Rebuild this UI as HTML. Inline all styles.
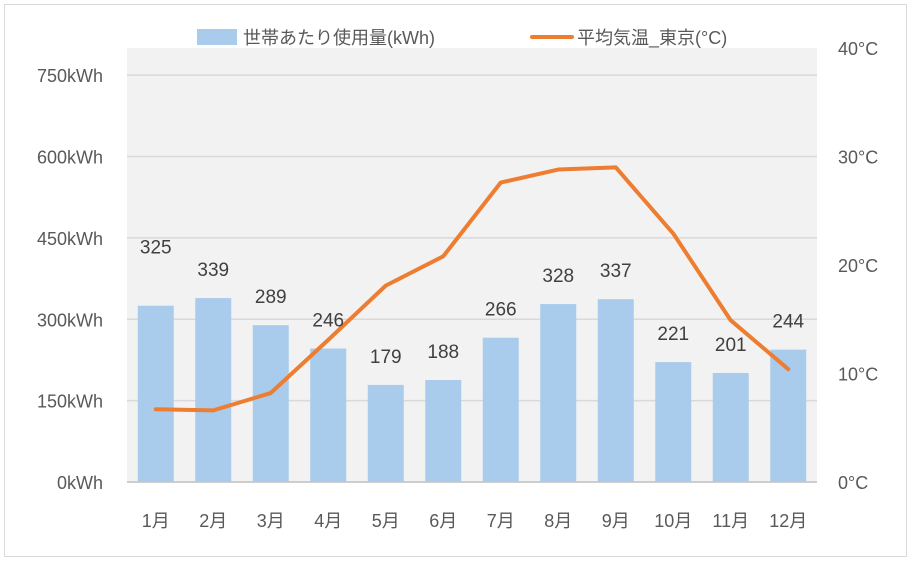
<!DOCTYPE html>
<html><head><meta charset="utf-8"><style>
body{margin:0;background:#fff;}
svg{display:block;font-family:"Liberation Sans","Noto Sans CJK JP",sans-serif;}
</style></head><body>
<svg id="c" width="911" height="561" xmlns="http://www.w3.org/2000/svg">
<rect x="4.5" y="4.5" width="902" height="552" fill="#fff" stroke="#d9d9d9"/>
<rect x="127" y="48" width="690" height="434" fill="#f2f2f2"/>
<g id="grid"></g><g id="bars"></g><g id="line"></g><g id="labels"></g>
<g>
<rect x="197" y="29" width="40" height="16" fill="#a9cbec"/>
<text x="243" y="44" font-size="18" fill="#595959">世帯あたり使用量(kWh)</text>
<line x1="532" y1="37" x2="572" y2="37" stroke="#ed7d31" stroke-width="4" stroke-linecap="round"/>
<text x="577" y="44" font-size="18" fill="#595959">平均気温_東京(°C)</text>
</g>
</svg>
<script>
const months=["1月","2月","3月","4月","5月","6月","7月","8月","9月","10月","11月","12月"];
const usage=[325,339,289,246,179,188,266,328,337,221,201,244];
const temps=[6.7,6.6,8.2,13.1,18.1,20.8,27.6,28.8,29.0,22.9,14.9,10.4];
const leftTicks=[0,150,300,450,600,750];
const rightTicks=[0,10,20,30,40];
const NS="http://www.w3.org/2000/svg";
const x0=127,bw=57.5,yB=482,yT=48;
const yL=v=>yB-(v/800)*(yB-yT);
const yR=v=>yB-(v/40)*(yB-yT);
const xc=i=>x0+bw*(i+0.5);
function mk(p,t,a,txt){const e=document.createElementNS(NS,t);for(const k in a)e.setAttribute(k,a[k]);if(txt!==undefined)e.textContent=txt;document.getElementById(p).appendChild(e);return e;}
leftTicks.forEach(v=>{
 const l=mk("grid","line",{x1:x0,x2:817,y1:yL(v),y2:yL(v),stroke:v===0?"#bfbfbf":"#d9d9d9","stroke-width":1.5});
 
 
 const t=mk("labels","text",{x:103,y:yL(v)+7,"text-anchor":"end","font-size":18,fill:"#595959"},v+"kWh");
 
 
});
rightTicks.forEach(v=>{
 const t=mk("labels","text",{x:838,y:yR(v)+7,"font-size":18,fill:"#595959"},v+"°C");
 
 
});
usage.forEach((v,i)=>{
 const r=mk("bars","rect",{x:xc(i)-18,y:yL(v),width:36,height:yB-yL(v),fill:"#a9cbec"});
 
 
 const off=i===0?52:22;
 const t=mk("labels","text",{x:xc(i),y:yL(v)-off,"text-anchor":"middle","font-size":19,fill:"#404040"},v);
 
 
 const m=mk("labels","text",{x:xc(i),y:527,"text-anchor":"middle","font-size":18,fill:"#595959"},months[i]);
 
 
});
const pl=mk("line","polyline",{points:temps.map((v,i)=>xc(i)+","+yR(v)).join(" "),fill:"none",stroke:"#ed7d31","stroke-width":4,"stroke-linejoin":"round","stroke-linecap":"round"});


</script>
</body></html>
